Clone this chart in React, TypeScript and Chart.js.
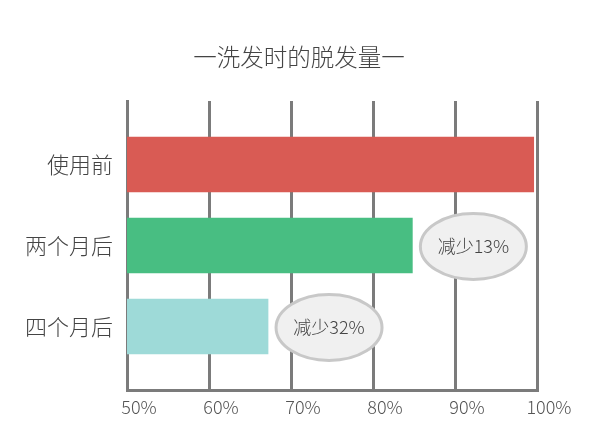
import React, { useEffect, useRef } from "react";
import { Chart, registerables } from "chart.js";

Chart.register(...registerables);

const title = "一洗发时的脱发量一";
const categories = ["使用前", "两个月后", "四个月后"];
const values = [99.6, 84.8, 67.2];
const barColors = ["#d95b54", "#48be82", "#9edad8"];
const notes = ["", "减少13%", "减少32%"];
const xTicks = [50, 60, 70, 80, 90, 100];

const FONT = "'Noto Sans CJK SC', 'Noto Sans', sans-serif";
const GRID = "#7b7b7b";

const titlePlugin = {
  id: "topTitle",
  afterDraw(chart: any) {
    const ctx = chart.ctx;
    ctx.save();
    ctx.fillStyle = "#444";
    ctx.font = `300 23.5px ${FONT}`;
    ctx.textAlign = "center";
    ctx.textBaseline = "middle";
    ctx.fillText(title, 299, 57);
    ctx.restore();
  },
};

const notePlugin = {
  id: "notes",
  afterDatasetsDraw(chart: any) {
    const meta = chart.getDatasetMeta(0);
    const ctx = chart.ctx;
    meta.data.forEach((bar: any, i: number) => {
      const text = notes[i];
      if (!text) return;
      const rx = 53;
      const ry = 33;
      const cx = bar.x + rx + 8;
      const cy = bar.y + 1;
      ctx.save();
      ctx.beginPath();
      ctx.ellipse(cx, cy, rx, ry, 0, 0, Math.PI * 2);
      ctx.fillStyle = "#f0f0f0";
      ctx.fill();
      ctx.lineWidth = 3;
      ctx.strokeStyle = "#c8c8c8";
      ctx.stroke();
      ctx.fillStyle = "#444";
      ctx.font = `300 18px ${FONT}`;
      ctx.textAlign = "center";
      ctx.textBaseline = "middle";
      ctx.fillText(text, cx, cy);
      ctx.restore();
    });
  },
};

export default function App() {
  const ref = useRef<HTMLCanvasElement>(null);
  useEffect(() => {
    if (!ref.current) return;
    const chart = new Chart(ref.current, {
      type: "bar",
      data: {
        datasets: [
          {
            data: values.map((v, i) => ({ x: v, y: i })) as any,
            backgroundColor: barColors,
            borderWidth: 0,
            barThickness: 55,
          },
        ],
      },
      options: {
        indexAxis: "y",
        animation: false,
        responsive: false,
        layout: { padding: { left: 0, right: 75, top: 101, bottom: 0 } },
        plugins: {
          legend: { display: false },
          tooltip: { enabled: false },
          title: { display: false },
        },
        scales: {
          x: {
            type: "linear",
            position: "bottom",
            min: 50,
            max: 100,
            afterBuildTicks: (scale: any) => {
              scale.ticks = xTicks.map((v) => ({ value: v }));
            },
            afterFit: (scale: any) => {
              scale.height = 51;
            },
            grid: { color: GRID, lineWidth: 3, drawTicks: false },
            border: { display: true, color: GRID, width: 3 },
            ticks: {
              color: "#555",
              padding: 6,
              labelOffset: 12,
              font: { family: FONT, size: 18, weight: 300 as any },
              callback: (v: any) => `${v}%`,
            },
          },
          y: {
            type: "linear",
            reverse: true,
            offset: false,
            min: -0.784,
            max: 2.784,
            afterBuildTicks: (scale: any) => {
              scale.ticks = categories.map((_, i) => ({ value: i }));
            },
            afterFit: (scale: any) => {
              scale.width = 127;
            },
            grid: { display: false, drawTicks: false, offset: false },
            border: { display: true, color: GRID, width: 3 },
            ticks: {
              color: "#444",
              padding: 14,
              font: { family: FONT, size: 22, weight: 300 as any },
              callback: (v: any) => categories[v] ?? "",
            },
          },
        },
      },
      plugins: [notePlugin, titlePlugin],
    });
    return () => chart.destroy();
  }, []);
  return (
    <div style={{ width: 612, height: 441, background: "#fff" }}>
      <style>{"body{margin:0}"}</style>
      <canvas ref={ref} width={612} height={441} style={{ display: "block", width: 612, height: 441 }} />
    </div>
  );
}
